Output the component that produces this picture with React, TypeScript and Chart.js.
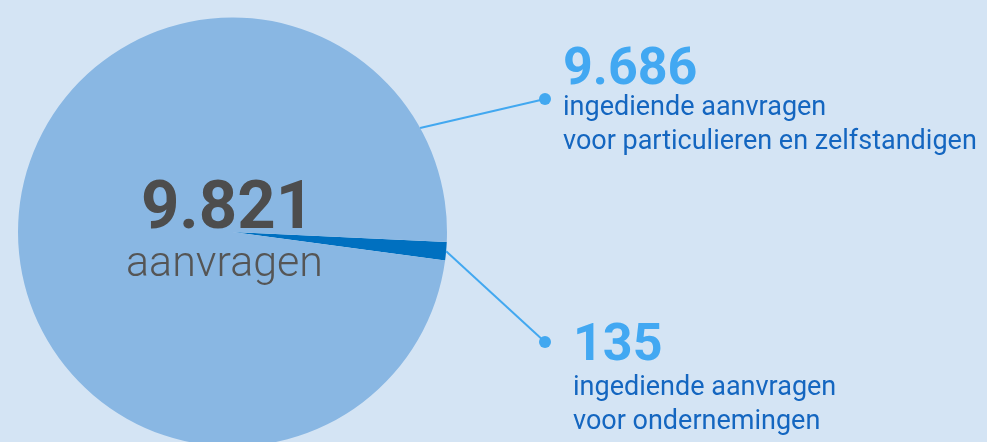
import React, { useEffect, useRef } from "react";
import { Chart, registerables } from "chart.js";

Chart.register(...registerables);

// ---- data ----
const categories = [
  "ingediende aanvragen voor ondernemingen",
  "ingediende aanvragen voor particulieren en zelfstandigen",
];
const values = [135, 9686];
const captionLines = [
  ["ingediende aanvragen", "voor ondernemingen"],
  ["ingediende aanvragen", "voor particulieren en zelfstandigen"],
];
const totalCaption = "aanvragen";

// ---- styles ----
const BG = "#D4E4F4";
const sliceColors = ["#0070C0", "#89B7E3"];
const LINE = "#42A8F0";
const VALUE_COLOR = "#42A8F2";
const CAPTION_COLOR = "#1466C0";
const FONT = "Roboto, 'Noto Sans', sans-serif";

const fmt = (n: number) => String(n).replace(/\B(?=(\d{3})+(?!\d))/g, ".");

// annotation layout per slice (leader anchor angle in degrees, null = slice mid-angle)
const annot = [
  { anchorDeg: null as number | null, dot: [545, 342], textX: 573, valueBase: 360, lineBase: [395, 429] },
  { anchorDeg: -29 as number | null, dot: [545, 99], textX: 563, valueBase: 84, lineBase: [115, 149] },
];

const labelPlugin = {
  id: "labels",
  afterDraw(chart: any) {
    const ctx: CanvasRenderingContext2D = chart.ctx;
    const meta = chart.getDatasetMeta(0);
    ctx.save();
    ctx.textBaseline = "alphabetic";
    meta.data.forEach((arc: any, i: number) => {
      const p = arc.getProps(["x", "y", "outerRadius", "startAngle", "endAngle"], true);
      const a = annot[i];
      const ang = a.anchorDeg === null ? (p.startAngle + p.endAngle) / 2 : (a.anchorDeg * Math.PI) / 180;
      const sx = p.x + p.outerRadius * Math.cos(ang);
      const sy = p.y + p.outerRadius * Math.sin(ang);
      ctx.strokeStyle = LINE;
      ctx.lineWidth = 2;
      ctx.beginPath();
      ctx.moveTo(sx, sy);
      ctx.lineTo(a.dot[0], a.dot[1]);
      ctx.stroke();
      ctx.fillStyle = LINE;
      ctx.beginPath();
      ctx.arc(a.dot[0], a.dot[1], 6, 0, Math.PI * 2);
      ctx.fill();

      ctx.textAlign = "left";
      ctx.fillStyle = VALUE_COLOR;
      ctx.font = `bold 52px ${FONT}`;
      ctx.fillText(fmt(values[i]), a.textX, a.valueBase);
      ctx.fillStyle = CAPTION_COLOR;
      ctx.font = `400 27px ${FONT}`;
      captionLines[i].forEach((t, j) => ctx.fillText(t, a.textX, a.lineBase[j]));
    });

    // center total
    const c = meta.data[0].getProps(["x", "y"], true);
    const total = values.reduce((s, v) => s + v, 0);
    ctx.textAlign = "center";
    ctx.fillStyle = "#4D4D4D";
    ctx.font = `bold 67px ${FONT}`;
    ctx.fillText(fmt(total), c.x - 5, c.y - 4);
    ctx.fillStyle = "#555555";
    ctx.font = `300 43px ${FONT}`;
    ctx.fillText(totalCaption, c.x - 8, c.y + 44);
    ctx.restore();
  },
};

export default function App() {
  const ref = useRef<HTMLCanvasElement>(null);
  useEffect(() => {
    if (!ref.current) return;
    const chart = new Chart(ref.current, {
      type: "pie",
      data: {
        labels: categories,
        datasets: [{ data: values, backgroundColor: sliceColors, borderWidth: 0 }],
      },
      options: {
        responsive: false,
        animation: false,
        rotation: 92.7,
        layout: { padding: { left: 18, right: 540, top: 17.5, bottom: 23.5 } },
        plugins: { legend: { display: false }, tooltip: { enabled: false } },
      },
      plugins: [labelPlugin],
    } as any);
    return () => chart.destroy();
  }, []);
  return (
    <div style={{ position: "fixed", left: 0, top: 0, width: 987, height: 442, overflow: "hidden", background: BG }}>
      <canvas ref={ref} width={987} height={470} style={{ display: "block" }} />
    </div>
  );
}
